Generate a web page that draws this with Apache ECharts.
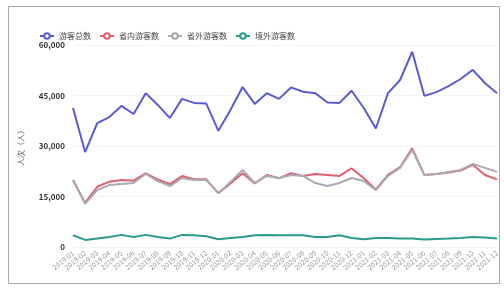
<!DOCTYPE html>
<html><head><meta charset="utf-8">
<script src="https://cdn.jsdelivr.net/npm/echarts@6/dist/echarts.min.js"></script>
<style>
html,body{margin:0;padding:0;background:#fff;}
#frame{position:absolute;left:8px;top:6px;width:492px;height:278px;border:1px solid #aaa;box-sizing:border-box;}
#c{position:absolute;left:0;top:0;width:504px;height:288px;}
</style></head>
<body><div id="frame"></div><div id="c"></div>
<script>
const categories = [];
const years = ['2019','2020','2021'];
for (const y of years) for (let m = 1; m <= 12; m++) categories.push(y + '-' + (m < 10 ? '0' + m : m));

const seriesNames = ['游客总数', '省内游客数', '省外游客数', '境外游客数'];
const totalVisitors = [41300,28200,36800,38600,41900,39500,45700,42200,38300,44000,42800,42600,34500,40700,47500,42500,45700,44000,47400,46100,45700,42900,42800,46400,41300,35200,45700,49600,58000,44900,46000,47800,49900,52600,48700,45700];
const provincialVisitors = [19900,13100,17900,19400,19900,19700,21900,20100,18700,21100,20100,20100,16000,18900,21900,18900,21400,20400,21900,21100,21700,21400,21100,23400,20400,17100,21400,23700,29300,21400,21700,22100,22700,24400,21400,20100];
const outOfProvinceVisitors = [19900,12800,16900,18400,18700,19000,21700,19600,18100,20500,19900,19900,16000,19300,22900,19000,21100,20500,21400,21100,19000,18100,19000,20500,19600,16900,21100,23500,28800,21400,21700,22300,22900,24700,23500,22300];
const overseasVisitors = [3500,2100,2500,3000,3600,3000,3600,3000,2500,3600,3500,3200,2300,2700,3000,3500,3600,3500,3500,3500,3000,3000,3500,2700,2300,2700,2700,2500,2500,2200,2400,2500,2700,3000,2800,2500];
const yTicks = [0, 15000, 30000, 45000, 60000];

const colors = ['#5a5ad2', '#e0606e', '#a8aab4', '#2a9a8e'];
const dataSets = [totalVisitors, provincialVisitors, outOfProvinceVisitors, overseasVisitors];

const chart = echarts.init(document.getElementById('c'));
chart.setOption({
  animation: false,
  textStyle: {fontFamily: '"Noto Sans CJK SC", "Noto Sans", sans-serif'},
  color: colors,
  legend: {
    left: 34, top: 27, itemWidth: 14, itemHeight: 7, itemGap: 8,
    textStyle: {fontSize: 8, color: '#444'},
    data: seriesNames
  },
  grid: {left: 73, right: 7, top: 45, bottom: 41, containLabel: false},
  xAxis: {
    type: 'category', data: categories, boundaryGap: false,
    axisLine: {show: false}, axisTick: {show: false},
    axisLabel: {interval: 0, rotate: 40, fontSize: 7, color: '#999', margin: 5}
  },
  yAxis: {
    type: 'value', min: yTicks[0], max: yTicks[yTicks.length - 1], interval: 15000,
    name: '人次（人）', nameLocation: 'middle', nameGap: 48, nameRotate: 90,
    nameTextStyle: {fontSize: 8, color: '#666'},
    axisLine: {show: false}, axisTick: {show: false},
    axisLabel: {fontSize: 8, color: '#333', fontWeight: 'bold', margin: 8,
      formatter: v => v.toLocaleString('en-US')},
    splitLine: {show: true, lineStyle: {color: '#f4f4f4'}}
  },
  series: seriesNames.map((n, i) => ({
    name: n, type: 'line', data: dataSets[i], showSymbol: false,
    lineStyle: {width: 2, color: colors[i]}, itemStyle: {color: colors[i]}
  }))
});
</script></body></html>
